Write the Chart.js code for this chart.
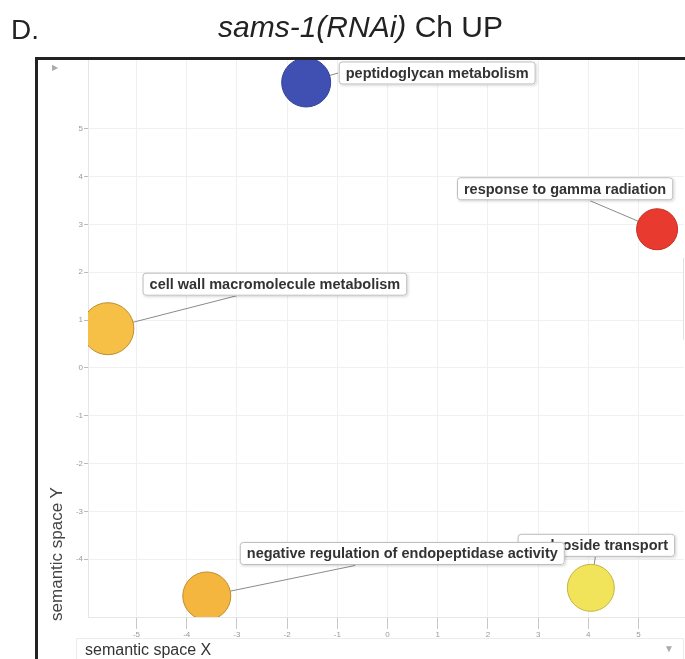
<!DOCTYPE html>
<html>
<head>
<meta charset="utf-8">
<script src="https://cdn.jsdelivr.net/npm/chart.js@4/dist/chart.umd.min.js"></script>
<style>
html,body{margin:0;padding:0;background:#fff;width:685px;height:659px;overflow:hidden;font-family:"Liberation Sans",Arial,sans-serif}
#wrap{position:relative;width:685px;height:659px;overflow:hidden}
#c{position:absolute;left:0;top:0}
.t{position:absolute;white-space:nowrap;color:#222}
</style>
</head>
<body>
<div id="wrap">
<canvas id="c" width="711" height="659"></canvas>
<div class="t" style="left:11px;top:16px;font-size:28px;line-height:28px;">D.</div>
<div class="t" style="left:0;top:12px;width:721px;text-align:center;font-size:30px;line-height:30px;"><i>sams-1(RNAi)</i> Ch UP</div>
<div class="t" style="left:56px;top:554px;font-size:17px;line-height:17px;color:#444;transform:translate(-50%,-50%) rotate(-90deg);">semantic space Y</div>
<div style="position:absolute;left:76px;top:638px;width:606px;height:24px;border:1px solid #ececec;"></div>
<div class="t" style="left:85px;top:641px;font-size:16px;line-height:18px;color:#333;">semantic space X</div>
<div class="t" style="left:664px;top:643px;font-size:10px;line-height:12px;color:#aaa;">▼</div>
<div class="t" style="left:52px;top:64px;font-size:8px;line-height:8px;color:#aaa;">▶</div>
</div>
<script>
// ---- data ----
const terms = [
  'peptidoglycan metabolism',
  'response to gamma radiation',
  'cell wall macromolecule metabolism',
  'negative regulation of endopeptidase activity',
  'nucleoside transport'
];
const semanticX = [-1.62, 5.37, -5.57, -3.60, 4.05];
const semanticY = [5.97, 2.90, 0.82, -4.77, -4.60];
const bubbleSize = [24.5, 20.5, 26, 24, 23.5];
const xTickValues = [-5, -4, -3, -2, -1, 0, 1, 2, 3, 4, 5];
const yTickValues = [-4, -3, -2, -1, 0, 1, 2, 3, 4, 5];

// ---- styles / label placement (pixels) ----
const fillColors = ['#3f50b2', '#e93a2f', '#f6bf45', '#f5b640', '#f1e35a'];
const edgeColors = ['#33429a', '#c52e25', '#b98f30', '#c08c30', '#c2b540'];
const labelLayout = [
  {dx: 131, dy: -9.5, ax: -99, ay: 0},
  {dx: -92, dy: -40.5, ax: 25, ay: 12},
  {dx: 167, dy: -44.5, ax: -38, ay: 11.5},
  {dx: 195.5, dy: -42.5, ax: -47, ay: 12},
  {dx: 5.5, dy: -42.5, ax: -1, ay: 11.5}
];
const labelDrawOrder = [0, 1, 2, 4, 3];
const LABEL_FONT = 'bold 14.5px "Liberation Sans", Arial, sans-serif';

const datasets = terms.map((t, i) => ({
  label: t,
  data: [{x: semanticX[i], y: semanticY[i], r: bubbleSize[i]}],
  backgroundColor: fillColors[i],
  borderColor: edgeColors[i],
  borderWidth: 1,
  hoverRadius: 0,
  hoverBorderWidth: 1,
  clip: 0
}));

function boxFor(chart, i) {
  const xs = chart.scales.x, ys = chart.scales.y;
  const cx = xs.getPixelForValue(semanticX[i]);
  const cy = ys.getPixelForValue(semanticY[i]);
  const ctx = chart.ctx;
  ctx.font = LABEL_FONT;
  const w = ctx.measureText(terms[i]).width + 14;
  const h = 23;
  const L = labelLayout[i];
  const bx = cx + L.dx, by = cy + L.dy;
  return {cx, cy, bx, by, w, h, axp: bx + L.ax, ayp: by + L.ay};
}

const labelPlugin = {
  id: 'labels',
  beforeDatasetsDraw(chart) {
    const ctx = chart.ctx;
    ctx.save();
    ctx.strokeStyle = '#8a8a8a';
    ctx.lineWidth = 1;
    terms.forEach((t, i) => {
      const b = boxFor(chart, i);
      ctx.beginPath();
      ctx.moveTo(b.axp, b.ayp);
      ctx.lineTo(b.cx, b.cy);
      ctx.stroke();
    });
    ctx.restore();
  },
  afterDatasetsDraw(chart) {
    const ctx = chart.ctx;
    labelDrawOrder.forEach(i => {
      const b = boxFor(chart, i);
      const x0 = b.bx - b.w / 2, y0 = b.by - b.h / 2;
      ctx.save();
      ctx.shadowColor = 'rgba(0,0,0,0.18)';
      ctx.shadowBlur = 3;
      ctx.shadowOffsetX = 1;
      ctx.shadowOffsetY = 1;
      ctx.fillStyle = '#fff';
      ctx.beginPath();
      ctx.roundRect(x0, y0, b.w, b.h, 3);
      ctx.fill();
      ctx.restore();
      ctx.save();
      ctx.strokeStyle = '#bdbdbd';
      ctx.lineWidth = 1;
      ctx.beginPath();
      ctx.roundRect(x0 + 0.5, y0 + 0.5, b.w - 1, b.h - 1, 3);
      ctx.stroke();
      ctx.fillStyle = '#333';
      ctx.font = LABEL_FONT;
      ctx.textAlign = 'center';
      ctx.textBaseline = 'middle';
      ctx.fillText(terms[i], b.bx, b.by + 1);
      ctx.restore();
    });
  },
  afterDraw(chart) {
    const ctx = chart.ctx;
    ctx.save();
    ctx.fillStyle = '#222';
    ctx.fillRect(35, 57, 676, 3);
    ctx.fillRect(35, 57, 3, 602);
    ctx.fillStyle = '#e2e2e2';
    ctx.fillRect(683, 258, 1, 82);
    ctx.restore();
  }
};

new Chart(document.getElementById('c'), {
  type: 'bubble',
  data: {datasets},
  options: {
    responsive: false,
    animation: false,
    devicePixelRatio: 1,
    layout: {padding: {left: 0, top: 60, right: 0, bottom: 0}},
    plugins: {legend: {display: false}, tooltip: {enabled: false}, title: {display: false}},
    events: [],
    scales: {
      x: {
        type: 'linear',
        min: -5.966,
        max: 5.906,
        afterBuildTicks: s => { s.ticks = xTickValues.map(v => ({value: v})); },
        afterFit: s => { s.height = 42; },
        grid: {color: '#f0f0f0', tickColor: '#c8c8c8', tickLength: 12, drawTicks: true},
        border: {color: '#e6e6e6'},
        ticks: {font: {size: 8, family: '"Liberation Sans", Arial'}, color: '#999', padding: 1, maxRotation: 0}
      },
      y: {
        type: 'linear',
        min: -5.21,
        max: 6.44,
        afterBuildTicks: s => { s.ticks = yTickValues.map(v => ({value: v})); },
        afterFit: s => { s.width = 88; },
        grid: {color: '#f0f0f0', tickColor: '#bbb', tickLength: 4, drawTicks: true},
        border: {color: '#e6e6e6'},
        ticks: {font: {size: 8, family: '"Liberation Sans", Arial'}, color: '#999', padding: 1}
      }
    }
  },
  plugins: [labelPlugin]
});
</script>
</body>
</html>
